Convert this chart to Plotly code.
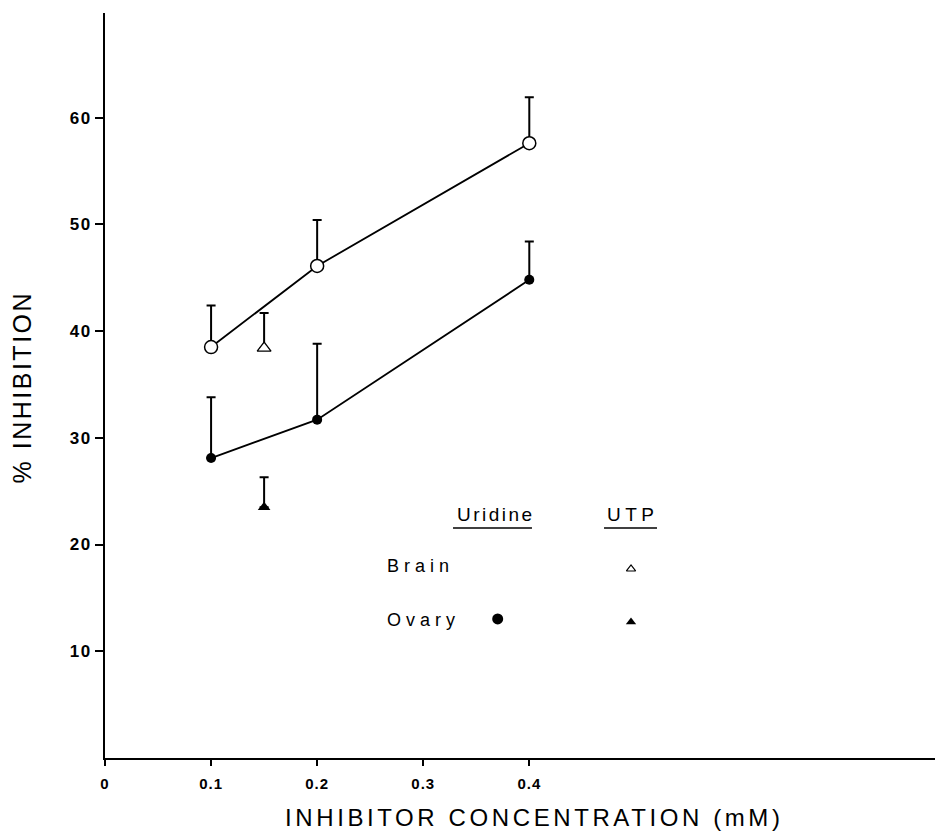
import plotly.graph_objects as go

# Data
conc = [0.1, 0.2, 0.4]
brain_uridine = [38.5, 46.1, 57.6]
brain_uridine_err = [3.9, 4.3, 4.3]
ovary_uridine = [28.1, 31.7, 44.8]
ovary_uridine_err = [5.7, 7.1, 3.6]

utp_conc = [0.15]
brain_utp = [38.4]
brain_utp_err = [3.3]
ovary_utp = [23.5]
ovary_utp_err = [2.8]

x_ticks = [0, 0.1, 0.2, 0.3, 0.4]
x_ticklabels = ["0", "0.1", "0.2", "0.3", "0.4"]
y_ticks = [10, 20, 30, 40, 50, 60]
y_ticklabels = ["10", "20", "30", "40", "50", "60"]

FONT = "Liberation Sans, Arial, sans-serif"
BLACK = "#000000"


def spaced(text, px):
    return f'<span style="letter-spacing:{px}px">{text}</span>'


fig = go.Figure()


def err(vals):
    return dict(type="data", array=vals, arrayminus=[0] * len(vals), symmetric=False,
                color=BLACK, thickness=2, width=4.5)


fig.add_trace(go.Scatter(
    x=conc, y=brain_uridine, mode="lines+markers", name="Brain Uridine",
    line=dict(color=BLACK, width=1.8),
    marker=dict(symbol="circle", size=13, color="white", line=dict(color=BLACK, width=1.5)),
    error_y=err(brain_uridine_err)))
fig.add_trace(go.Scatter(
    x=conc, y=ovary_uridine, mode="lines+markers", name="Ovary Uridine",
    line=dict(color=BLACK, width=1.8),
    marker=dict(symbol="circle", size=10, color=BLACK),
    error_y=err(ovary_uridine_err)))
fig.add_trace(go.Scatter(
    x=utp_conc, y=brain_utp, mode="markers", name="Brain UTP",
    marker=dict(symbol="triangle-up", size=12, color="white", line=dict(color=BLACK, width=1.3)),
    error_y=err(brain_utp_err)))
fig.add_trace(go.Scatter(
    x=utp_conc, y=ovary_utp, mode="markers", name="Ovary UTP",
    marker=dict(symbol="triangle-up", size=11, color=BLACK),
    error_y=err(ovary_utp_err)))

# Key symbols on an overlay axis (fractional plot coordinates)
fig.add_trace(go.Scatter(x=[0.4686], y=[0.1866], mode="markers", xaxis="x2", yaxis="y2",
                         marker=dict(symbol="circle", size=11, color=BLACK), showlegend=False))
fig.add_trace(go.Scatter(x=[0.6277], y=[0.2537], mode="markers", xaxis="x2", yaxis="y2",
                         marker=dict(symbol="triangle-up", size=8, color="white",
                                     line=dict(color=BLACK, width=1.2)), showlegend=False))
fig.add_trace(go.Scatter(x=[0.6277], y=[0.1826], mode="markers", xaxis="x2", yaxis="y2",
                         marker=dict(symbol="triangle-up", size=9, color=BLACK), showlegend=False))

annotations = [
    dict(text=spaced("Uridine", 2.5), x=0.4177, y=0.3275, xanchor="left", yanchor="middle",
         font=dict(size=19, family=FONT, color=BLACK)),
    dict(text=spaced("UTP", 4.5), x=0.5967, y=0.3275, xanchor="left", yanchor="middle",
         font=dict(size=19, family=FONT, color=BLACK)),
    dict(text=spaced("Brain", 5), x=0.3341, y=0.2577, xanchor="left", yanchor="middle",
         font=dict(size=18, family=FONT, color=BLACK)),
    dict(text=spaced("Ovary", 5), x=0.3341, y=0.1846, xanchor="left", yanchor="middle",
         font=dict(size=18, family=FONT, color=BLACK)),
    dict(text=spaced("% INHIBITION", 2.5), x=-0.0979, y=0.4987, textangle=-90,
         xanchor="center", yanchor="middle",
         font=dict(size=25, family=FONT, color=BLACK)),
    dict(text=spaced("INHIBITOR CONCENTRATION (mM)", 3.6), x=0.5125, y=-0.0805,
         xanchor="center", yanchor="middle",
         font=dict(size=24, family=FONT, color=BLACK)),
]
for a in annotations:
    a.update(xref="paper", yref="paper", showarrow=False)

shapes = [
    dict(type="line", xref="paper", yref="paper", x0=0.4153, x1=0.5095, y0=0.3087, y1=0.3087,
         line=dict(color=BLACK, width=1.5)),
    dict(type="line", xref="paper", yref="paper", x0=0.5955, x1=0.6587, y0=0.3087, y1=0.3087,
         line=dict(color=BLACK, width=1.5)),
]

# The page body has an 8px margin, so the figure origin sits at (8, 8) in the window.
fig.update_layout(
    width=943, height=825,
    margin=dict(l=97, r=8, t=5, b=75),
    paper_bgcolor="white", plot_bgcolor="white",
    showlegend=False,
    annotations=annotations, shapes=shapes,
    xaxis=dict(range=[0, 0.79], tickvals=x_ticks, ticktext=[spaced(t, 1) for t in x_ticklabels],
               showgrid=False, zeroline=False, showline=True, linecolor=BLACK, linewidth=2,
               ticks="outside", ticklen=6, tickwidth=2, tickcolor=BLACK, ticklabelstandoff=5,
               tickfont=dict(size=15, family=FONT, color=BLACK, weight="bold")),
    yaxis=dict(range=[0, 69.8], tickvals=y_ticks, ticktext=[spaced(t, 1.5) for t in y_ticklabels],
               showgrid=False, zeroline=False, showline=True, linecolor=BLACK, linewidth=2,
               ticks="outside", ticklen=8, tickwidth=1.5, tickcolor=BLACK,
               tickfont=dict(size=17, family=FONT, color=BLACK, weight="bold")),
    xaxis2=dict(overlaying="x", range=[0, 1], visible=False),
    yaxis2=dict(overlaying="y", range=[0, 1], visible=False),
)

fig.write_html("out.html")
